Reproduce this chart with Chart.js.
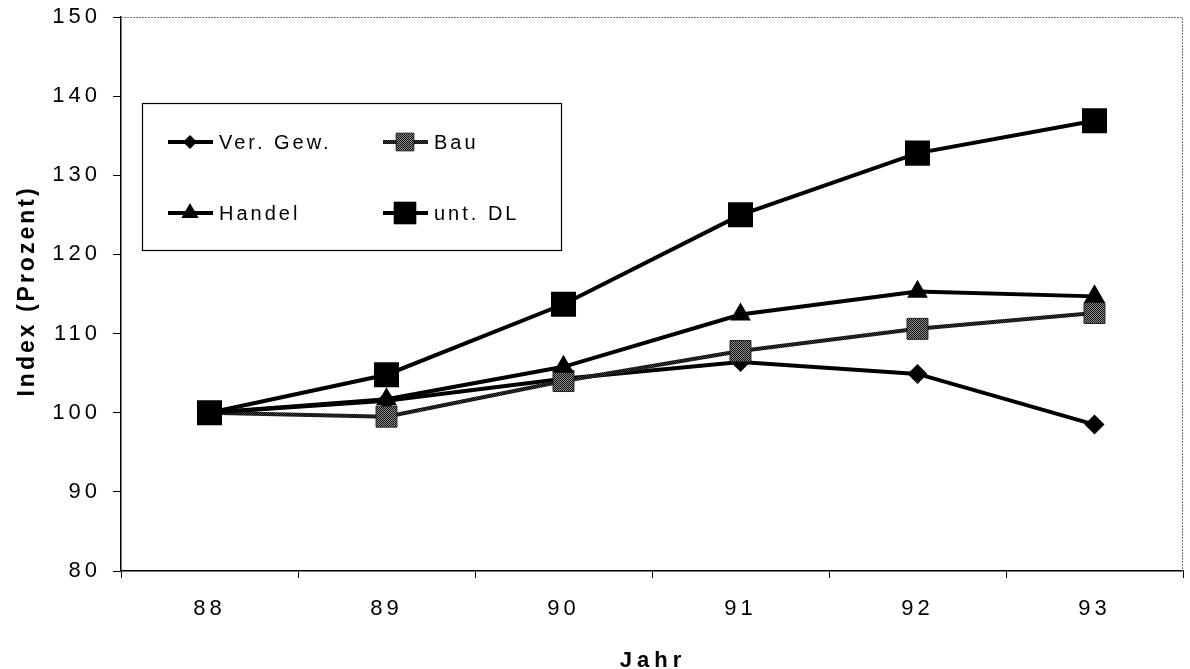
<!DOCTYPE html>
<html>
<head>
<meta charset="utf-8">
<script src="https://cdn.jsdelivr.net/npm/chart.js@4.4.1/dist/chart.umd.min.js"></script>
<style>
  html, body { margin: 0; padding: 0; background: #fff; overflow: hidden; }
  #myChart { display: block; }
</style>
</head>
<body>
<canvas id="myChart" width="1190" height="669"></canvas>
<script>
// values
const years = ['88', '89', '90', '91', '92', '93'];
const verGew = [100, 101.5, 104.3, 106.4, 104.9, 98.5];
const bau = [100, 99.5, 104.0, 107.8, 110.6, 112.6];
const handel = [100, 101.7, 105.8, 112.4, 115.3, 114.7];
const untDL = [100, 104.8, 113.7, 125.0, 132.8, 136.9];
const yTicks = [80, 90, 100, 110, 120, 130, 140, 150];
const xTitle = 'Jahr';
const yTitle = 'Index (Prozent)';

const FONT = '"Liberation Sans", Arial, sans-serif';
const canvas = document.getElementById('myChart');
const ctx = canvas.getContext('2d');

// grey dithered fill like the scan
function dither(c1, c2) {
    const c = document.createElement('canvas');
    c.width = 2; c.height = 2;
    const g = c.getContext('2d');
    g.fillStyle = c2; g.fillRect(0, 0, 2, 2);
    g.fillStyle = c1; g.fillRect(0, 0, 1, 1); g.fillRect(1, 1, 1, 1);
    return ctx.createPattern(c, 'repeat');
}
const bauFill = dither('#111', '#8c8c8c');
const bauLine = dither('#000', '#3a3a3a');

// legend markers are a bit smaller than on the plot
const legendSpots = [[168, 142, 7], [383, 142, 12.5], [168, 213, 10], [383, 213, 16]];

// no extra room for end labels, the plot box is fixed
function noPad(s) {
    s.paddingLeft = 0; s.paddingRight = 0;
    s.paddingTop = 0; s.paddingBottom = 0;
}

const decor = {
    id: 'decor',
    beforeDraw(chart) {
        chart.ctx.letterSpacing = '4px';
    },
    beforeDatasetsDraw(chart) {
        const c = chart.ctx;
        const a = chart.chartArea;
        c.letterSpacing = '0px';
        c.save();
        c.strokeStyle = '#777';
        c.lineWidth = 1;
        c.setLineDash([2, 1]);
        c.beginPath();
        c.moveTo(a.left, a.top + 0.5);
        c.lineTo(a.right - 0.5, a.top + 0.5);
        c.lineTo(a.right - 0.5, a.bottom);
        c.stroke();
        c.restore();
    },
    afterDraw(chart) {
        const c = chart.ctx;
        c.save();
        // legend box
        c.fillStyle = '#fff';
        c.fillRect(142, 103, 420, 147);
        c.strokeStyle = '#000';
        c.lineWidth = 1.2;
        c.strokeRect(142.5, 103.5, 419, 147);

        chart.data.datasets.forEach((ds, i) => {
            const [x, y, r] = legendSpots[i];
            c.setLineDash([]);
            c.strokeStyle = ds.borderColor;
            c.lineWidth = ds.borderWidth;
            c.beginPath();
            c.moveTo(x, y);
            c.lineTo(x + 45, y);
            c.stroke();
            c.fillStyle = ds.pointBackgroundColor;
            c.strokeStyle = ds.pointBorderColor;
            c.lineWidth = ds.pointBorderWidth;
            Chart.helpers.drawPoint(c, {
                pointStyle: ds.pointStyle,
                radius: r,
                rotation: 0,
                borderWidth: ds.pointBorderWidth
            }, x + 22, y);
            c.fillStyle = '#000';
            c.letterSpacing = '3px';
            c.font = '20px ' + FONT;
            c.textAlign = 'left';
            c.textBaseline = 'middle';
            c.fillText(ds.label, x + 51, y + 1);
        });

        // axis titles
        c.fillStyle = '#000';
        c.font = 'bold 22px ' + FONT;
        c.letterSpacing = '5px';
        c.textAlign = 'center';
        c.textBaseline = 'alphabetic';
        c.fillText(xTitle, 653, 667);

        c.font = 'bold 23px ' + FONT;
        c.letterSpacing = '3px';
        c.translate(34, 293);
        c.rotate(-Math.PI / 2);
        c.fillText(yTitle, 2, 0);
        c.restore();
    }
};

const chart = new Chart(ctx, {
    type: 'line',
    data: {
        labels: years,
        datasets: [
            {
                label: 'Ver. Gew.',
                data: verGew,
                borderColor: '#000',
                borderWidth: 4,
                pointStyle: 'rectRot',
                pointRadius: 10,
                pointBackgroundColor: '#000',
                pointBorderColor: '#000',
                pointBorderWidth: 0,
                order: 3
            },
            {
                label: 'Bau',
                data: bau,
                borderColor: bauLine,
                borderWidth: 4,
                pointStyle: 'rect',
                pointRadius: 14.8,
                pointBackgroundColor: bauFill,
                pointBorderColor: '#222',
                pointBorderWidth: 1,
                order: 2
            },
            {
                label: 'Handel',
                data: handel,
                borderColor: '#000',
                borderWidth: 4,
                pointStyle: 'triangle',
                pointRadius: 12,
                pointBackgroundColor: '#000',
                pointBorderColor: '#000',
                pointBorderWidth: 0,
                order: 0
            },
            {
                label: 'unt. DL',
                data: untDL,
                borderColor: '#000',
                borderWidth: 4,
                pointStyle: 'rect',
                pointRadius: 17.7,
                pointBackgroundColor: '#000',
                pointBorderColor: '#000',
                pointBorderWidth: 0,
                order: 1
            }
        ]
    },
    options: {
        responsive: false,
        devicePixelRatio: 1,
        animation: false,
        events: [],
        layout: {
            autoPadding: false,
            padding: { top: 17, right: 7, left: 0, bottom: 0 }
        },
        elements: { line: { tension: 0 } },
        plugins: {
            legend: { display: false },
            tooltip: { enabled: false },
            title: { display: false }
        },
        scales: {
            x: {
                offset: true,
                grid: {
                    offset: true,
                    drawOnChartArea: false,
                    drawTicks: true,
                    tickLength: 7,
                    tickColor: '#000',
                    tickWidth: 1
                },
                border: { color: '#000', width: 1.5 },
                ticks: {
                    color: '#000',
                    font: { family: FONT, size: 22 },
                    padding: 18,
                    maxRotation: 0
                },
                afterFit: s => { s.height = 98; noPad(s); }
            },
            y: {
                min: 80,
                max: 150,
                afterBuildTicks: s => { s.ticks = yTicks.map(v => ({ value: v })); },
                grid: {
                    drawOnChartArea: false,
                    drawTicks: true,
                    tickLength: 8,
                    tickColor: '#000',
                    tickWidth: 1
                },
                border: { color: '#000', width: 1.5 },
                ticks: {
                    color: '#000',
                    font: { family: FONT, size: 22 },
                    padding: 12
                },
                afterFit: s => { s.width = 121; noPad(s); }
            }
        }
    },
    plugins: [decor]
});
</script>
</body>
</html>
